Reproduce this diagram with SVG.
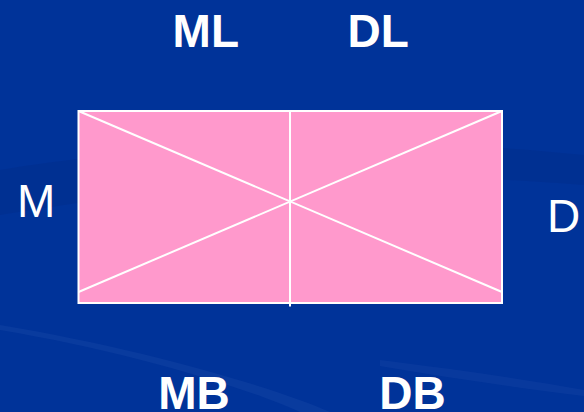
<svg xmlns="http://www.w3.org/2000/svg" width="584" height="412" viewBox="0 0 584 412">
<style>
.lb{font-family:"Liberation Sans",Arial,sans-serif;font-size:46px;fill:#ffffff}
.b{font-weight:bold}
.ln{stroke:#ffffff;stroke-width:2;fill:none}
.box{stroke:#ffffff;stroke-width:2;fill:#ff99cc}
</style>
<rect id="background" x="0" y="0" width="584" height="412" fill="#003399"/>
<g id="swooshes">
<path d="M0 170 C120 150 350 130 584 155 L584 185 C350 165 150 190 0 215 Z" fill="#002a88" opacity="0.35"/>
<path d="M0 325 C150 350 280 390 330 412 L300 412 C240 385 120 350 0 330 Z" fill="#1a4aa8" opacity="0.35"/>
<path d="M380 360 C460 370 530 380 584 390 L584 396 C520 388 450 378 380 366 Z" fill="#1a4aa8" opacity="0.3"/>
</g>
<g id="diagram">
<rect class="box" x="78.5" y="111" width="423.5" height="192"/>
</g>
<g id="connectors">
<line class="ln" x1="290" y1="111" x2="290" y2="306.5"/>
<line class="ln" x1="78.5" y1="111" x2="502" y2="292"/>
<line class="ln" x1="78.5" y1="292" x2="502" y2="111"/>
</g>
<g id="label-ML"><text class="lb b" x="172.6" y="46.7">ML</text></g>
<g id="label-DL"><text class="lb b" x="347.5" y="46.7">DL</text></g>
<g id="label-M"><text class="lb" x="17" y="217.3">M</text></g>
<g id="label-D"><text class="lb" x="547" y="231.7">D</text></g>
<g id="label-MB"><text class="lb b" x="158.3" y="409">MB</text></g>
<g id="label-DB"><text class="lb b" x="379.2" y="409">DB</text></g>
</svg>
